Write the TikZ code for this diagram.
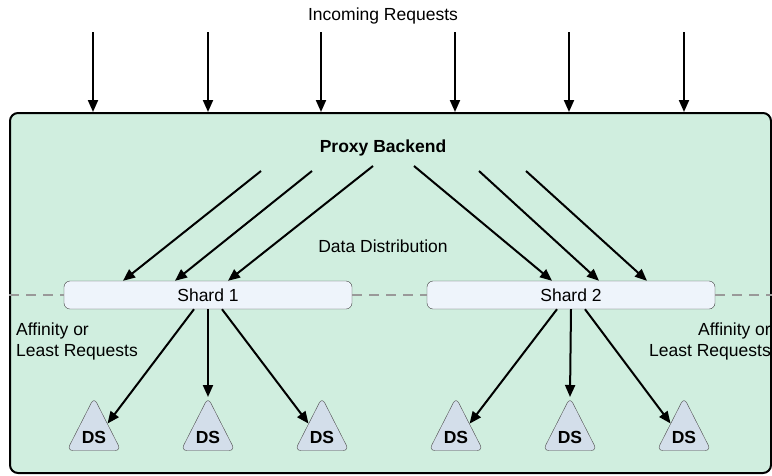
\documentclass[tikz,border=0pt]{standalone}
\usepackage{fontspec}
\setmainfont{Liberation Sans}
\usepackage{tikz}
\usetikzlibrary{arrows.meta, shapes.geometric}

\definecolor{backfill}{HTML}{D0EEDF}
\definecolor{shardfill}{HTML}{EEF4FB}
\definecolor{dsfill}{HTML}{D3DEEA}

\tikzset{
	req/.style={line width=2pt, -{Triangle[length=12pt, width=10pt]}},
	lbl/.style={font=\fontsize{17.5}{21}\selectfont, inner sep=0pt},
	shardbox/.style={draw=black!75, fill=shardfill, rounded corners=6pt, minimum width=288pt, minimum height=28pt, inner sep=0pt, font=\fontsize{17.5}{21}\selectfont},
	dsnode/.style={isosceles triangle, isosceles triangle stretches, shape border rotate=90, minimum width=54pt, minimum height=53pt, inner sep=0pt, draw=black!70, fill=dsfill, rounded corners=6pt, font=\fontsize{17.5}{21}\selectfont\bfseries},
	split/.style={draw=black!40, line width=2pt, dash pattern=on 10pt off 7pt}
}

\begin{document}
\begin{tikzpicture}[x=1pt, y=-1pt]
	\useasboundingbox (0,0) rectangle (772,475);

	\node[draw, line width=2pt, fill=backfill, rounded corners=8pt, minimum width=761pt, minimum height=360pt] (box) at (390.5,293) {};

	\node[lbl] (incoming) at (383,16) {Incoming Requests};
	\foreach \x [count=\i] in {93,208,321,455,569,684} {
		\coordinate (in\i) at (\x,32);
		\draw[req] (in\i) -- (in\i |- box.north);
	}

	\node[lbl, font=\fontsize{17.5}{21}\selectfont\bfseries] (proxy) at (383,148) {Proxy Backend};
	\node[lbl] (dist) at (383,246) {Data Distribution};

	\node[shardbox] (sh1) at (208,295) {Shard 1};
	\node[shardbox] (sh2) at (571,295) {Shard 2};

	\draw[split] (box.west |- sh1) -- (sh1.west);
	\draw[split] (sh1.east) -- (sh2.west);
	\draw[split] (sh2.east) -- (box.east |- sh2);

	\coordinate (p1) at (261,171); \coordinate (p2) at (312,171); \coordinate (p3) at (373,166);
	\coordinate (p4) at (414,166); \coordinate (p5) at (479,171); \coordinate (p6) at (526,171);
	\draw[req] (p1) -- ([xshift=-85pt]sh1.north);
	\draw[req] (p2) -- ([xshift=-33pt]sh1.north);
	\draw[req] (p3) -- ([xshift=20pt]sh1.north);
	\draw[req] (p4) -- ([xshift=-19pt]sh2.north);
	\draw[req] (p5) -- ([xshift=28pt]sh2.north);
	\draw[req] (p6) -- ([xshift=76pt]sh2.north);

	\node[lbl, align=left, anchor=north west] (aff1) at (16,323) {Affinity or\\Least Requests};
	\node[lbl, align=right, anchor=north east] (aff2) at (771,323) {Affinity or\\Least Requests};

	\foreach \x [count=\i] in {94,208,322,456,570,684}
		\node[dsnode, anchor=apex] (ds\i) at (\x,397) {\raisebox{-2.5pt}[0pt][0pt]{DS}};

	\draw[req] ([xshift=-14pt]sh1.south) -- (ds1);
	\draw[req] (sh1.south) -- (ds2.apex);
	\draw[req] ([xshift=14pt]sh1.south) -- (ds3);
	\draw[req] ([xshift=-14pt]sh2.south) -- (ds4);
	\draw[req] (sh2.south) -- (ds5.apex);
	\draw[req] ([xshift=14pt]sh2.south) -- (ds6);
\end{tikzpicture}
\end{document}
